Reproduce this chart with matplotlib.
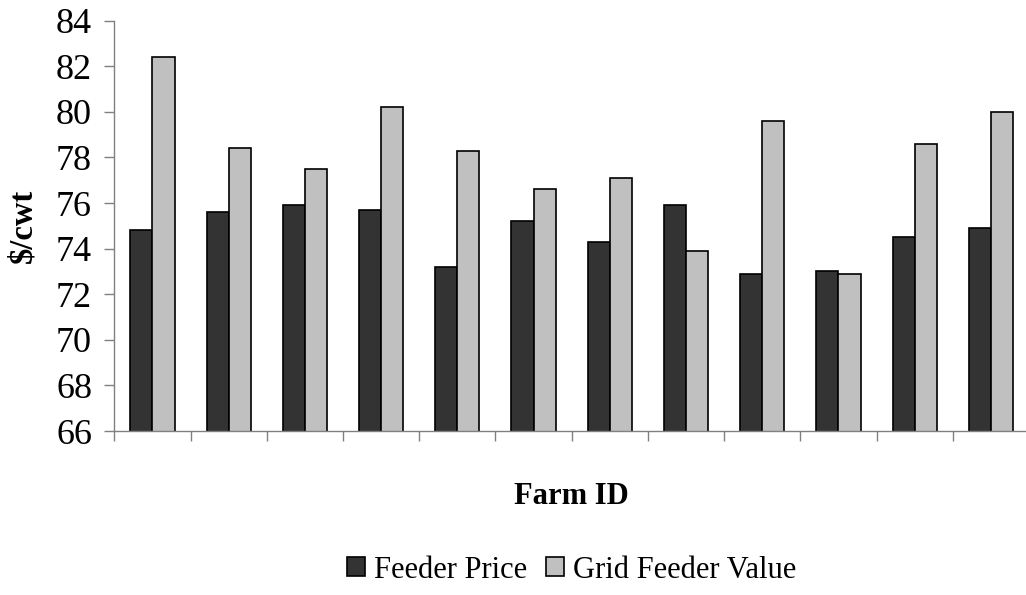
import numpy as np
import matplotlib
matplotlib.use("Agg")
import matplotlib.pyplot as plt

farms = list(range(1, 13))
feeder_price = [74.8, 75.6, 75.9, 75.7, 73.2, 75.2, 74.3, 75.9, 72.9, 73.0, 74.5, 74.9]
grid_value = [82.4, 78.4, 77.5, 80.2, 78.3, 76.6, 77.1, 73.9, 79.6, 72.9, 78.6, 80.0]
y_ticks = list(range(66, 86, 2))

plt.rcParams['font.family'] = ['Liberation Serif', 'DejaVu Serif']

fig = plt.figure(figsize=(10.26, 5.95), dpi=100)
ax = fig.add_axes([0.1114, 0.2756, 0.8915, 0.6896])

x = np.arange(len(farms))
w = 0.29
ax.bar(x - w / 2, feeder_price, w, color='#333333', edgecolor='black',
       linewidth=1.2, label='Feeder Price')
ax.bar(x + w / 2, grid_value, w, color='#c0c0c0', edgecolor='black',
       linewidth=1.2, label='Grid Feeder Value')

ax.set_ylim(66, 84)
ax.set_xlim(-0.5, len(farms) - 0.5)
ax.set_yticks(y_ticks)
ax.tick_params(axis='y', labelsize=26, length=7, width=1, color='#808080',
               direction='out', pad=9)
ax.set_xticks(np.arange(-0.5, len(farms), 1.0))
ax.set_xticklabels([])
ax.tick_params(axis='x', length=7, width=1, color='#808080', direction='out')

for s in ['top', 'right']:
    ax.spines[s].set_visible(False)
for s in ['left', 'bottom']:
    ax.spines[s].set_color('#808080')
    ax.spines[s].set_linewidth(1)

fig.text(22.7 / 1026, 0.620, '$/cwt', rotation=90, fontsize=23.5, fontweight='bold',
         ha='center', va='center')
fig.text(571.7 / 1026, 1 - 496.7 / 595, 'Farm ID', fontsize=22, fontweight='bold',
         ha='center', va='center')

fig.legend(loc='center', bbox_to_anchor=(571.7 / 1026, 25 / 595), ncol=2,
           frameon=False, fontsize=22, handlelength=0.6, handleheight=0.6,
           handletextpad=0.3, columnspacing=0.6)

fig.savefig('out.png', dpi=100)
